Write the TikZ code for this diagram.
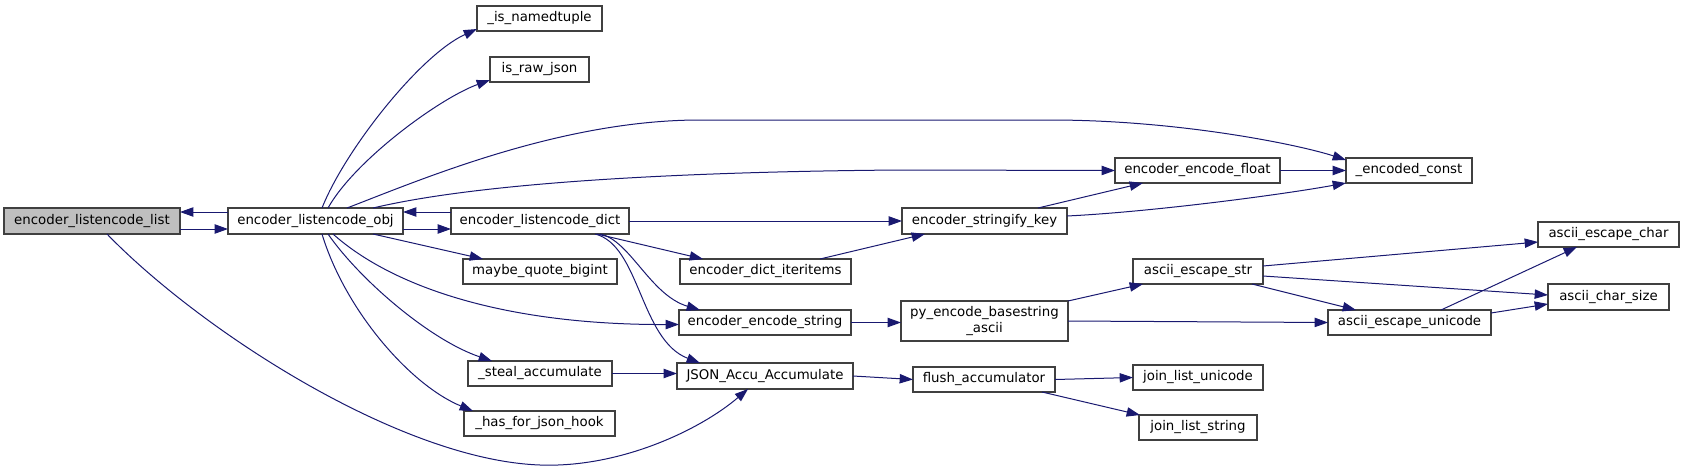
\documentclass[tikz,border=0pt]{standalone}
\usepackage{fontspec}
\setmainfont{DejaVu Sans}
\usetikzlibrary{calc,arrows.meta}
\definecolor{edgeblue}{HTML}{191970}
\definecolor{nodeborder}{HTML}{404040}
\definecolor{rootfill}{HTML}{BFBFBF}
\newcommand\gnode[7][]{%
  \pgfmathsetmacro\gnw{(#5-#3)*0.75}%
  \pgfmathsetmacro\gnh{(#6-#4)*0.75}%
  \node[gbox,#1,minimum width=\gnw pt,minimum height=\gnh pt] (#2) at ({(#3+#5)/2},{(#4+#6)/2}) {#7};%
}
\begin{document}
\begin{tikzpicture}[x=0.75pt,y=-0.75pt,
  gbox/.style={draw=nodeborder,fill=white,line width=0.8pt,inner sep=0pt,outer sep=0pt,
    font=\fontsize{10pt}{12pt}\selectfont,align=center,text=black},
  rootbox/.style={fill=rootfill},
  cg/.style={draw=edgeblue,line width=0.75pt,-{Triangle[length=10pt,width=7pt]},fill=none}]
\useasboundingbox (0,0) rectangle (1684,471);
% nodes
\gnode[rootbox]{list}{4}{208}{180}{234}{encoder\_listencode\_list}
\gnode{obj}{228}{208}{403}{234}{encoder\_listencode\_obj}
\gnode{dict}{451}{208}{629}{234}{encoder\_listencode\_dict}
\gnode{nt}{477}{6}{602}{31}{\_is\_namedtuple}
\gnode{raw}{490}{57}{589}{82}{is\_raw\_json}
\gnode{mqb}{463}{259}{617}{284}{maybe\_quote\_bigint}
\gnode{steal}{468}{361}{612}{386}{\_steal\_accumulate}
\gnode{hook}{464}{411}{615}{436}{\_has\_for\_json\_hook}
\gnode{iter}{680}{259}{851}{284}{encoder\_dict\_iteritems}
\gnode{encstr}{679}{310}{851}{335}{encoder\_encode\_string}
\gnode{accu}{677}{363}{853}{389}{JSON\_Accu\_Accumulate}
\gnode{key}{902}{208}{1067}{234}{encoder\_stringify\_key}
\gnode{pyenc}{901}{301}{1068}{341}{py\_encode\_basestring\\\_ascii}
\gnode{flush}{913}{367}{1055}{392}{flush\_accumulator}
\gnode{float}{1115}{158}{1280}{183}{encoder\_encode\_float}
\gnode{aestr}{1133}{259}{1263}{284}{ascii\_escape\_str}
\gnode{jlu}{1133}{365}{1263}{390}{join\_list\_unicode}
\gnode{jls}{1139}{415}{1257}{440}{join\_list\_string}
\gnode{const}{1346}{158}{1472}{183}{\_encoded\_const}
\gnode{aeu}{1328}{310}{1491}{335}{ascii\_escape\_unicode}
\gnode{aec}{1538}{222}{1679}{247}{ascii\_escape\_char}
\gnode{acs}{1548}{284}{1669}{310}{ascii\_char\_size}
% edges
\draw[cg] ($(list.south east)+(0,-5)$) -- ($(obj.south west)+(0,-5)$);
\draw[cg] ($(obj.north west)+(0,4)$) -- ($(list.north east)+(0,4)$);
\draw[cg] ($(obj.south east)+(0,-5)$) -- ($(dict.south west)+(0,-5)$);
\draw[cg] ($(dict.north west)+(0,4)$) -- ($(obj.north east)+(0,4)$);
\draw[cg] ($(obj.north west)+(94,0)$) .. controls (345,150) and (420,55) .. ($(nt.south west)+(0,-2)$);
\draw[cg] ($(obj.north west)+(100,0)$) .. controls (355,160) and (440,98) .. ($(raw.south west)+(0,-2)$);
\draw[cg] ($(obj.north west)+(119,0)$) .. controls (420,180) and (560,120) .. (700,120) -- (1050,120) .. controls (1180,120) and (1300,145) .. ($(const.north west)+(0,2)$);
\draw[cg] ($(obj.north west)+(145,0)$) .. controls (470,185) and (650,172) .. (900,170) -- (float.west);
\draw[cg] ($(obj.south west)+(145,0)$) -- ($(mqb.north west)+(20,0)$);
\draw[cg] ($(obj.south west)+(105,0)$) .. controls (390,285) and (500,325) .. ($(encstr.west)+(0,2)$);
\draw[cg] ($(obj.south west)+(100,0)$) .. controls (360,280) and (430,340) .. ($(steal.north west)+(24,0)$);
\draw[cg] ($(obj.south west)+(94,0)$) .. controls (345,310) and (410,385) .. ($(hook.north west)+(9,0)$);
\draw[cg] ($(list.south west)+(103,0)$) .. controls (200,330) and (400,460) .. (540,465) .. controls (620,468) and (700,430) .. ($(accu.south west)+(71,0)$);
\draw[cg] (dict.east) -- (key.west);
\draw[cg] ($(dict.south west)+(146,0)$) -- ($(iter.north west)+(23,0)$);
\draw[cg] ($(dict.south west)+(149,0)$) .. controls (630,240) and (650,295) .. ($(encstr.north west)+(21,0)$);
\draw[cg] ($(dict.south west)+(144,0)$) .. controls (640,245) and (640,340) .. ($(accu.north west)+(23,0)$);
\draw[cg] (steal.east) -- (steal.east -| accu.west);
\draw[cg] ($(iter.north west)+(140,0)$) -- ($(key.south west)+(23,0)$);
\draw[cg] ($(key.north west)+(136,0)$) -- ($(float.south west)+(28,0)$);
\draw[cg] ($(key.east)+(0,-5)$) .. controls (1150,212) and (1280,195) .. (const.south west);
\draw[cg] (float.east) -- (const.west);
\draw[cg] (encstr.east) -- (encstr.east -| pyenc.west);
\draw[cg] (accu.east) -- (flush.west);
\draw[cg] (pyenc.north east) -- ($(aestr.south west)+(10,0)$);
\draw[cg] (pyenc.east) -- (aeu.west);
\draw[cg] ($(aestr.east)+(0,-5.5)$) -- ($(aec.west)+(0,7.5)$);
\draw[cg] ($(aestr.east)+(0,4.5)$) -- ($(acs.west)+(0,-2)$);
\draw[cg] ($(aestr.south east)+(-11,0)$) -- ($(aeu.north west)+(28,0)$);
\draw[cg] ($(aeu.north west)+(113,0)$) -- ($(aec.south west)+(39,0)$);
\draw[cg] ($(aeu.north east)+(0,3)$) -- ($(acs.south west)+(0,-6)$);
\draw[cg] (flush.east) -- (jlu.west);
\draw[cg] ($(flush.south east)+(-13,0)$) -- ($(jls.north west)+(1,0)$);
\end{tikzpicture}
\end{document}
